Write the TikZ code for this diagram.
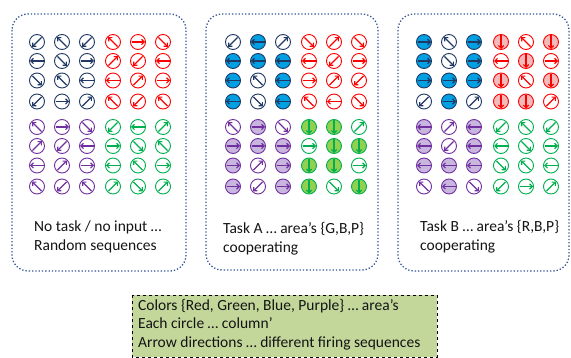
\documentclass[tikz,border=0pt]{standalone}
\usepackage{fontspec}
\setmainfont{Carlito}
\usetikzlibrary{arrows.meta}
\definecolor{nb}{RGB}{31,56,100}
\definecolor{rd}{RGB}{255,0,0}
\definecolor{pu}{RGB}{112,48,160}
\definecolor{gr}{RGB}{0,176,80}
\definecolor{fb}{RGB}{0,160,226}
\definecolor{fr}{RGB}{242,186,186}
\definecolor{fp}{RGB}{200,182,222}
\definecolor{fg}{RGB}{146,208,80}
\definecolor{w}{RGB}{255,255,255}
\definecolor{framec}{RGB}{47,85,151}
\definecolor{notec}{RGB}{196,215,155}
\definecolor{txt}{RGB}{20,20,20}
\tikzset{
  cellc/.style={line width=0.9pt},
  cella/.style={line width=1.2pt,-{Straight Barb[length=2.6pt,width=5.2pt]}},
  panel/.style={draw=framec,line width=1.3pt,dotted,rounded corners=16pt},
  lbl/.style={anchor=base west,inner sep=0pt,text=txt,font=\fontsize{15.5}{19}\selectfont},
  notebox/.style={draw=black,dashed,line width=0.6pt,fill=notec}
}
% x, y, stroke, fill, angle
\newcommand\cc[5]{%
  \draw[cellc,draw=#3,fill=#4] (#1,#2) circle[radius=7.5pt];
  \draw[cella,draw=#3] ([shift={(#5+180:6.5pt)}]#1,#2) -- ([shift={(#5:7pt)}]#1,#2);
}
\begin{document}
\begin{tikzpicture}[x=1pt,y=-1pt]
\useasboundingbox (0,0) rectangle (571,358);
% panels
\draw[panel] (12,14) rectangle (186,271);
\draw[panel] (206,14) rectangle (378,270);
\draw[panel] (398,14) rectangle (569,271);
% ===== panel 1 =====
% blue
\cc{37}{42}{nb}{w}{225}  \cc{62}{42}{nb}{w}{135}  \cc{87}{42}{nb}{w}{225}
\cc{37}{61}{nb}{w}{180}  \cc{62}{61}{nb}{w}{315}  \cc{87}{61}{nb}{w}{0}
\cc{37}{80.5}{nb}{w}{315} \cc{62}{80.5}{nb}{w}{135} \cc{87}{80.5}{nb}{w}{180}
\cc{37}{101.5}{nb}{w}{225} \cc{62}{101.5}{nb}{w}{0} \cc{87}{101.5}{nb}{w}{45}
% red
\cc{113}{42}{rd}{w}{135}  \cc{138}{42}{rd}{w}{0}  \cc{163}{42}{rd}{w}{315}
\cc{113}{61}{rd}{w}{45}  \cc{138}{61}{rd}{w}{225}  \cc{163}{61}{rd}{w}{180}
\cc{113}{80.5}{rd}{w}{180} \cc{138}{80.5}{rd}{w}{45} \cc{163}{80.5}{rd}{w}{0}
\cc{113}{101.5}{rd}{w}{135} \cc{138}{101.5}{rd}{w}{225} \cc{163}{101.5}{rd}{w}{135}
% purple
\cc{37}{127}{pu}{w}{135}  \cc{62}{127}{pu}{w}{0}  \cc{87}{127}{pu}{w}{315}
\cc{37}{146}{pu}{w}{45}  \cc{62}{146}{pu}{w}{225}  \cc{87}{146}{pu}{w}{180}
\cc{37}{165.5}{pu}{w}{180} \cc{62}{165.5}{pu}{w}{45} \cc{87}{165.5}{pu}{w}{0}
\cc{37}{186.5}{pu}{w}{135} \cc{62}{186.5}{pu}{w}{225} \cc{87}{186.5}{pu}{w}{135}
% green
\cc{113}{127}{gr}{w}{225}  \cc{138}{127}{gr}{w}{180}  \cc{163}{127}{gr}{w}{45}
\cc{113}{146}{gr}{w}{0}  \cc{138}{146}{gr}{w}{315}  \cc{163}{146}{gr}{w}{135}
\cc{113}{165.5}{gr}{w}{180} \cc{138}{165.5}{gr}{w}{135} \cc{163}{165.5}{gr}{w}{0}
\cc{113}{186.5}{gr}{w}{45} \cc{138}{186.5}{gr}{w}{315} \cc{163}{186.5}{gr}{w}{45}
% ===== panel 2 =====
% blue
\cc{233}{42}{nb}{w}{225}  \cc{258}{42}{nb}{fb}{180}  \cc{283}{42}{nb}{w}{45}
\cc{233}{61}{nb}{fb}{180}  \cc{258}{61}{nb}{fb}{180}  \cc{283}{61}{nb}{fb}{180}
\cc{233}{80.5}{nb}{fb}{180} \cc{258}{80.5}{nb}{w}{135} \cc{283}{80.5}{nb}{fb}{180}
\cc{233}{101.5}{nb}{fb}{180} \cc{258}{101.5}{nb}{w}{315} \cc{283}{101.5}{nb}{fb}{180}
% red
\cc{309}{42}{rd}{w}{315}  \cc{334}{42}{rd}{w}{45}  \cc{359}{42}{rd}{w}{315}
\cc{309}{61}{rd}{w}{180}  \cc{334}{61}{rd}{w}{225}  \cc{359}{61}{rd}{w}{0}
\cc{309}{80.5}{rd}{w}{0} \cc{334}{80.5}{rd}{w}{45} \cc{359}{80.5}{rd}{w}{225}
\cc{309}{101.5}{rd}{w}{135} \cc{334}{101.5}{rd}{w}{180} \cc{359}{101.5}{rd}{w}{315}
% purple
\cc{233}{127}{pu}{w}{135}  \cc{258}{127}{pu}{fp}{0}  \cc{283}{127}{pu}{w}{315}
\cc{233}{146}{pu}{fp}{0}  \cc{258}{146}{pu}{fp}{0}  \cc{283}{146}{pu}{fp}{0}
\cc{233}{165.5}{pu}{fp}{0} \cc{258}{165.5}{pu}{w}{45} \cc{283}{165.5}{pu}{fp}{0}
\cc{233}{186.5}{pu}{fp}{0} \cc{258}{186.5}{pu}{w}{225} \cc{283}{186.5}{pu}{fp}{0}
% green
\cc{309}{127}{gr}{fg}{270}  \cc{334}{127}{gr}{fg}{270}  \cc{359}{127}{gr}{w}{45}
\cc{309}{146}{gr}{w}{0}  \cc{334}{146}{gr}{fg}{270}  \cc{359}{146}{gr}{fg}{270}
\cc{309}{165.5}{gr}{fg}{270} \cc{334}{165.5}{gr}{fg}{270} \cc{359}{165.5}{gr}{w}{0}
\cc{309}{186.5}{gr}{fg}{270} \cc{334}{186.5}{gr}{w}{315} \cc{359}{186.5}{gr}{fg}{270}
% ===== panel 3 =====
% blue
\cc{424}{42}{nb}{fb}{0}  \cc{449}{42}{nb}{w}{135}  \cc{474}{42}{nb}{fb}{0}
\cc{424}{61}{nb}{fb}{0}  \cc{449}{61}{nb}{w}{315}  \cc{474}{61}{nb}{fb}{0}
\cc{424}{80.5}{nb}{fb}{0} \cc{449}{80.5}{nb}{fb}{0} \cc{474}{80.5}{nb}{fb}{0}
\cc{424}{101.5}{nb}{w}{225} \cc{449}{101.5}{nb}{fb}{0} \cc{474}{101.5}{nb}{w}{45}
% red
\cc{501}{42}{rd}{fr}{270}  \cc{526}{42}{rd}{w}{135}  \cc{551}{42}{rd}{fr}{270}
\cc{501}{61}{rd}{w}{180}  \cc{526}{61}{rd}{fr}{270}  \cc{551}{61}{rd}{w}{0}
\cc{501}{80.5}{rd}{fr}{270} \cc{526}{80.5}{rd}{w}{135} \cc{551}{80.5}{rd}{fr}{270}
\cc{501}{101.5}{rd}{fr}{270} \cc{526}{101.5}{rd}{fr}{270} \cc{551}{101.5}{rd}{w}{45}
% purple
\cc{424}{127}{pu}{fp}{180}  \cc{449}{127}{pu}{w}{45}  \cc{474}{127}{pu}{fp}{180}
\cc{424}{146}{pu}{fp}{180}  \cc{449}{146}{pu}{w}{225}  \cc{474}{146}{pu}{fp}{180}
\cc{424}{165.5}{pu}{fp}{180} \cc{449}{165.5}{pu}{fp}{180} \cc{474}{165.5}{pu}{fp}{180}
\cc{424}{186.5}{pu}{w}{135} \cc{449}{186.5}{pu}{fp}{180} \cc{474}{186.5}{pu}{w}{315}
% green
\cc{501}{127}{gr}{w}{225}  \cc{526}{127}{gr}{w}{135}  \cc{551}{127}{gr}{w}{225}
\cc{501}{146}{gr}{w}{180}  \cc{526}{146}{gr}{w}{315}  \cc{551}{146}{gr}{w}{0}
\cc{501}{165.5}{gr}{w}{315} \cc{526}{165.5}{gr}{w}{135} \cc{551}{165.5}{gr}{w}{180}
\cc{501}{186.5}{gr}{w}{225} \cc{526}{186.5}{gr}{w}{0} \cc{551}{186.5}{gr}{w}{45}
% labels
\node[lbl] (t1a) at (34,231.5) {No task / no input …};
\node[lbl] (t1b) at (34,250.5) {Random sequences};
\node[lbl] (t2a) at (223,233.5) {Task A … area’s \{G,B,P\}};
\node[lbl] (t2b) at (223,252.5) {cooperating};
\node[lbl] (t3a) at (420,231.5) {Task B … area’s \{R,B,P\}};
\node[lbl] (t3b) at (420,250.5) {cooperating};
% note box
\draw[notebox] (132,295) rectangle (437,357);
\node[lbl] (n1) at (138,310.5) {Colors \{Red, Green, Blue, Purple\} … area’s};
\node[lbl] (n2) at (138,329) {Each circle … column’};
\node[lbl] (n3) at (138,347.5) {Arrow directions … different firing sequences};
\end{tikzpicture}
\end{document}
